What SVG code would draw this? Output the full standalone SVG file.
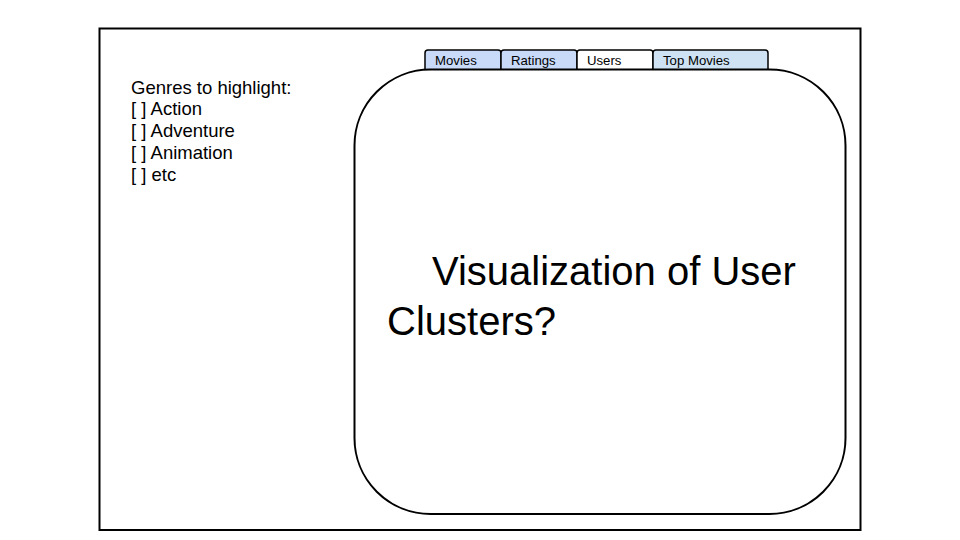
<svg xmlns="http://www.w3.org/2000/svg" width="960" height="540" viewBox="0 0 960 540">
<style>
.t{font-family:"Liberation Sans",Arial,sans-serif;fill:#000}
.tab{stroke:#000;stroke-width:1.5}
</style>
<rect width="960" height="540" fill="#fff"/>
<g id="frame"><rect x="99.5" y="28.5" width="761" height="501.5" fill="#fff" stroke="#000" stroke-width="2"/></g>
<g id="tabs">
<g id="tab-movies"><path class="tab" d="M425,69 V53 Q425,50 428,50 H498 Q501,50 501,53 V69" fill="#c9daf8"/><text class="t" x="435" y="65" font-size="13.2">Movies</text></g>
<g id="tab-ratings"><path class="tab" d="M501,69 V53 Q501,50 504,50 H574 Q577,50 577,53 V69" fill="#c9daf8"/><text class="t" x="511" y="65" font-size="13.2">Ratings</text></g>
<g id="tab-users"><path class="tab" d="M577,69 V53 Q577,50 580,50 H650 Q653,50 653,53 V69" fill="#fff"/><text class="t" x="587" y="65" font-size="13.2">Users</text></g>
<g id="tab-top"><path class="tab" d="M653,69 V53 Q653,50 656,50 H765 Q768,50 768,53 V69" fill="#cfe2f3"/><text class="t" x="663" y="65" font-size="13.2">Top Movies</text></g>
</g>
<g id="panel"><rect x="354.5" y="69.5" width="491" height="444.5" rx="76" ry="76" fill="#fff" stroke="#000" stroke-width="2"/>
<text class="t" font-size="40"><tspan x="432" y="284.5">Visualization of User</tspan><tspan x="387" y="334.5">Clusters?</tspan></text></g>
<g id="genres"><text class="t" font-size="18.5"><tspan x="131" y="93.5">Genres to highlight:</tspan><tspan x="131" y="115">[ ] Action</tspan><tspan x="131" y="137">[ ] Adventure</tspan><tspan x="131" y="158.5">[ ] Animation</tspan><tspan x="131" y="180.5">[ ] etc</tspan></text></g>
</svg>
